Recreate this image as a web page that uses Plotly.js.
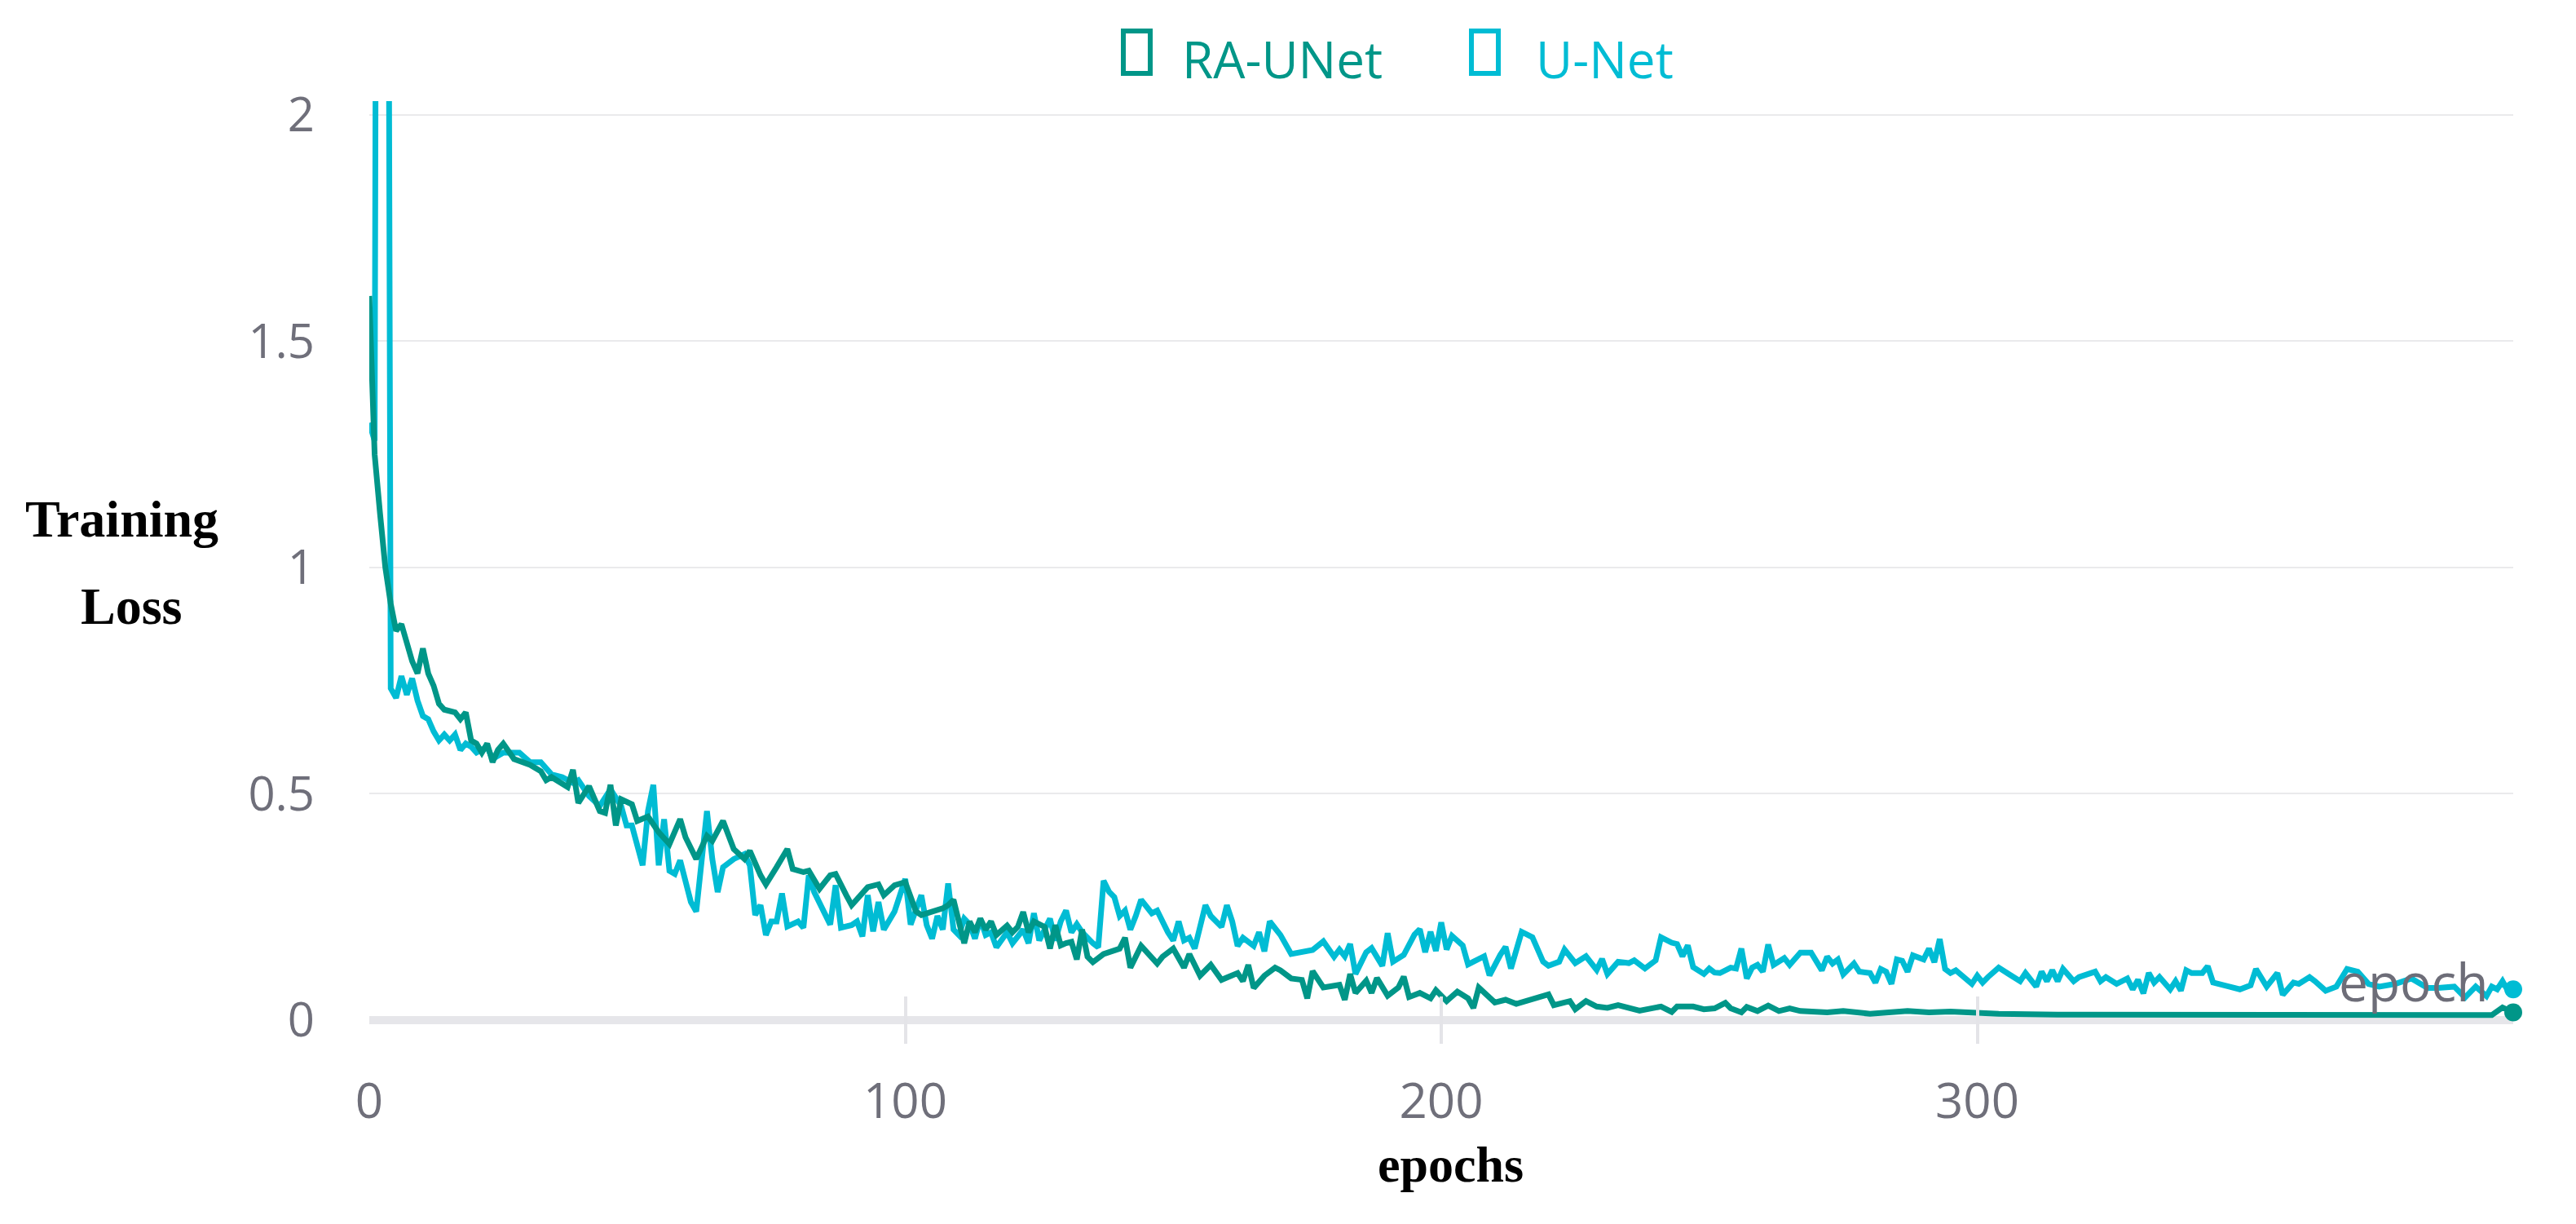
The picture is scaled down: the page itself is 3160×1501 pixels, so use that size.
<!DOCTYPE html>
<html>
<head>
<meta charset="utf-8">
<script src="https://cdn.plot.ly/plotly-3.0.1.min.js"></script>
<style>
  html, body { margin: 0; padding: 0; background: #ffffff; }
  #chart { width: 3160px; height: 1501px; }
</style>
</head>
<body>
<div id="chart"></div>
<script>
// Training loss per epoch
const raEpochs = [0,1,2,3,4,5,6,7,8,9,10,11,12,13,14,16,17,18,19,20,21,22,23,24,25,27,30,32,33,34,37,38,39,41,43,44,45,46,47,49,50,52,54,56,58,59,61,63,64,66,68,70,71,73,74,76,78,79,81,82,84,86,87,89,90,93,95,96,98,100,
  102,103,105,106,107,108,109,110,111,112,113,114,115,116,117,119,120,121,122,123,124,126,127,128,129,130,131,132,133,134,135,137,140,141,142,144,146,147,148,150,152,153,155,157,159,162,163,164,165,167,169,170,172,174,175,176,178,180,181,182,183,184,186,187,188,190,192,193,194,196,198,199,
  201,203,205,206,207,210,212,214,217,220,221,224,225,227,229,231,233,237,241,243,244,247,249,251,253,254,256,257,259,261,263,265,267,272,275,278,280,287,291,295,300,304,315,325,334,340,350,360,370,380,390,396,398,400];
const raLoss = [1.60,1.25,1.12,1.00,0.92,0.86,0.875,0.834,0.793,0.766,0.821,0.766,0.739,0.699,0.686,0.68,0.665,0.68,0.618,0.611,0.591,0.611,0.57,0.597,0.611,0.577,0.564,0.55,0.53,0.537,0.515,0.553,0.48,0.517,0.462,0.458,0.52,0.43,0.488,0.477,0.44,0.45,0.415,0.389,0.444,0.404,0.356,0.407,0.396,0.44,0.378,0.356,0.374,0.32,0.30,0.338,0.378,0.334,0.327,0.33,0.29,0.32,0.323,0.276,0.254,0.294,0.30,0.276,0.298,0.305,
  0.24,0.232,0.24,0.242,0.247,0.254,0.266,0.218,0.17,0.218,0.194,0.224,0.20,0.218,0.188,0.209,0.194,0.206,0.239,0.194,0.218,0.206,0.158,0.21,0.165,0.17,0.173,0.134,0.20,0.14,0.128,0.146,0.158,0.182,0.116,0.164,0.14,0.125,0.14,0.158,0.116,0.146,0.098,0.122,0.089,0.104,0.086,0.122,0.071,0.098,0.116,0.11,0.092,0.089,0.048,0.108,0.072,0.075,0.078,0.045,0.102,0.06,0.087,0.06,0.093,0.054,0.072,0.096,0.051,0.06,0.048,0.066,
  0.042,0.063,0.048,0.027,0.072,0.039,0.045,0.036,0.045,0.057,0.033,0.042,0.024,0.042,0.03,0.027,0.033,0.021,0.03,0.018,0.03,0.03,0.024,0.026,0.038,0.026,0.017,0.029,0.02,0.032,0.02,0.026,0.02,0.017,0.02,0.017,0.014,0.02,0.017,0.019,0.015,0.014,0.012,0.012,0.01,0.012,0.013,0.011,0.011,0.01,0.01,0.011,0.028,0.017];

const unetEpochs = [0,1,2,3,4,5,6,7,8,9,10,11,12,13,14,15,16,17,18,19,20,22,23,25,28,30,32,34,36,38,39,41,43,45,47,48,49,51,52,53,54,55,56,57,58,60,61,63,64,65,66,68,70,71,72,73,74,75,76,77,78,80,81,82,83,86,87,88,90,91,92,93,94,95,96,98,100,
  101,103,104,105,106,107,108,109,110,111,112,113,114,115,116,117,119,120,122,123,124,125,127,128,129,130,131,132,133,135,136,137,138,139,140,141,142,143,144,146,147,149,150,151,152,153,154,156,157,159,160,161,162,163,165,166,167,168,170,172,174,176,178,180,181,182,183,184,186,187,189,190,191,193,195,196,197,198,199,200,
  201,202,204,205,208,209,211,212,213,215,217,219,220,222,223,225,227,229,230,231,233,235,236,238,240,241,243,244,245,246,247,249,250,251,252,254,255,256,257,258,259,260,261,262,264,265,267,269,271,272,273,274,275,277,278,280,281,282,283,284,285,286,287,288,290,291,292,293,294,295,296,299,300,
  301,302,304,306,308,309,311,312,313,314,315,316,318,319,322,323,324,326,328,329,330,331,332,333,334,336,337,338,339,340,342,343,344,347,349,351,352,354,356,357,359,360,362,363,365,367,369,371,373,375,378,381,384,386,389,391,393,395,396,397,398,399,400];
const unetLoss = [1.32,1.28,6.0,5.0,0.733,0.712,0.76,0.719,0.755,0.706,0.672,0.665,0.638,0.618,0.631,0.618,0.631,0.597,0.611,0.604,0.591,0.604,0.577,0.591,0.591,0.57,0.57,0.543,0.537,0.524,0.53,0.495,0.473,0.51,0.473,0.43,0.43,0.342,0.462,0.52,0.342,0.444,0.33,0.323,0.353,0.261,0.24,0.462,0.356,0.283,0.338,0.356,0.367,0.342,0.232,0.254,0.188,0.218,0.218,0.28,0.207,0.218,0.204,0.32,0.283,0.211,0.298,0.204,0.21,0.218,0.185,0.276,0.196,0.261,0.2,0.24,0.312,
  0.211,0.276,0.21,0.18,0.23,0.2,0.302,0.2,0.188,0.224,0.212,0.18,0.224,0.188,0.194,0.161,0.194,0.17,0.2,0.17,0.236,0.176,0.224,0.176,0.218,0.242,0.194,0.212,0.194,0.17,0.161,0.308,0.284,0.272,0.23,0.242,0.2,0.23,0.266,0.236,0.242,0.194,0.176,0.218,0.176,0.182,0.158,0.254,0.23,0.206,0.254,0.218,0.164,0.182,0.164,0.194,0.152,0.218,0.188,0.146,0.15,0.155,0.174,0.14,0.156,0.141,0.168,0.102,0.15,0.159,0.12,0.192,0.129,0.144,0.189,0.201,0.15,0.195,0.153,0.216,
  0.156,0.186,0.165,0.123,0.141,0.099,0.144,0.162,0.114,0.195,0.183,0.129,0.12,0.129,0.156,0.126,0.141,0.111,0.135,0.102,0.129,0.126,0.132,0.114,0.132,0.183,0.171,0.168,0.141,0.165,0.117,0.102,0.114,0.105,0.104,0.116,0.114,0.158,0.092,0.116,0.122,0.107,0.167,0.122,0.137,0.122,0.149,0.149,0.11,0.14,0.125,0.134,0.101,0.125,0.107,0.104,0.083,0.113,0.107,0.08,0.134,0.131,0.107,0.143,0.134,0.158,0.128,0.179,0.113,0.104,0.11,0.08,0.098,
  0.083,0.095,0.116,0.101,0.086,0.104,0.074,0.107,0.086,0.11,0.086,0.113,0.086,0.095,0.107,0.086,0.095,0.08,0.092,0.068,0.089,0.059,0.104,0.083,0.095,0.068,0.086,0.065,0.11,0.104,0.104,0.119,0.083,0.074,0.068,0.077,0.113,0.074,0.104,0.056,0.083,0.08,0.095,0.086,0.065,0.074,0.113,0.107,0.08,0.074,0.08,0.092,0.071,0.071,0.074,0.05,0.074,0.053,0.074,0.068,0.086,0.065,0.068];

const yTicks = [0, 0.5, 1, 1.5, 2];
const xTicks = [0, 100, 200, 300];

const raColor = '#009688';
const unetColor = '#00bcd4';
const tickGray = '#6f6f7a';

const chart = document.getElementById('chart');

// plot area in page pixels, used to place the free text
const plotLeft = 453, plotRight = 3083, plotTop = 124, plotBottom = 1280;
function px(x) { return (x - plotLeft) / (plotRight - plotLeft); }
function py(y) { return (plotBottom - y) / (plotBottom - plotTop); }

const data = [
    {
        x: unetEpochs,
        y: unetLoss,
        type: 'scatter',
        mode: 'lines',
        line: { color: unetColor, width: 7 },
        name: 'U-Net',
    },
    {
        x: raEpochs,
        y: raLoss,
        type: 'scatter',
        mode: 'lines',
        line: { color: raColor, width: 7 },
        name: 'RA-UNet',
    },
    // dot on the last point of each run
    {
        x: [unetEpochs[unetEpochs.length - 1]],
        y: [unetLoss[unetLoss.length - 1]],
        type: 'scatter',
        mode: 'markers',
        marker: { color: unetColor, size: 22 },
        cliponaxis: false,
        hoverinfo: 'skip',
    },
    {
        x: [raEpochs[raEpochs.length - 1]],
        y: [raLoss[raLoss.length - 1]],
        type: 'scatter',
        mode: 'markers',
        marker: { color: raColor, size: 22 },
        cliponaxis: false,
        hoverinfo: 'skip',
    },
];

const layout = {
    width: 3160,
    height: 1501,
    showlegend: false,
    paper_bgcolor: '#ffffff',
    plot_bgcolor: '#ffffff',
    margin: { l: plotLeft, r: 3160 - plotRight, t: plotTop, b: 1501 - plotBottom },
    font: { family: 'Open Sans, sans-serif', color: tickGray },
    xaxis: {
        range: [0, 400],
        tickvals: xTicks,
        showgrid: false,
        zeroline: false,
        showline: false,
        ticks: 'inside',
        ticklen: 58,
        tickwidth: 4,
        tickcolor: '#e4e4e8',
        ticklabelstandoff: 30,
        tickfont: { family: 'Open Sans', size: 60, color: tickGray },
    },
    yaxis: {
        range: [-0.0523, 2.0306],
        tickvals: yTicks,
        showgrid: true,
        gridcolor: '#eaeaec',
        gridwidth: 2,
        zeroline: true,
        zerolinecolor: '#e6e6ea',
        zerolinewidth: 10,
        showline: false,
        ticks: '',
        ticklabelstandoff: 66,
        tickfont: { family: 'Open Sans', size: 58, color: tickGray },
    },
    shapes: [
        {
            type: 'rect', xref: 'paper', yref: 'paper',
            x0: px(1378), x1: px(1411), y0: py(90), y1: py(38),
            line: { color: raColor, width: 6 },
        },
        {
            type: 'rect', xref: 'paper', yref: 'paper',
            x0: px(1805), x1: px(1838), y0: py(90), y1: py(38),
            line: { color: unetColor, width: 6 },
        },
    ],
    annotations: [
        {
            text: 'RA-UNet', xref: 'paper', yref: 'paper',
            x: px(1448), y: py(72), xanchor: 'left', yanchor: 'middle',
            showarrow: false,
            font: { family: 'Open Sans', size: 62, color: raColor },
        },
        {
            text: 'U-Net', xref: 'paper', yref: 'paper',
            x: px(1882), y: py(72), xanchor: 'left', yanchor: 'middle',
            showarrow: false,
            font: { family: 'Open Sans', size: 62, color: unetColor },
        },
        {
            text: '<b>Training</b>', xref: 'paper', yref: 'paper',
            x: px(149), y: py(636), xanchor: 'center', yanchor: 'middle',
            showarrow: false,
            font: { family: 'Liberation Serif', size: 64, color: '#000000' },
        },
        {
            text: '<b>Loss</b>', xref: 'paper', yref: 'paper',
            x: px(161), y: py(743), xanchor: 'center', yanchor: 'middle',
            showarrow: false,
            font: { family: 'Liberation Serif', size: 64, color: '#000000' },
        },
        {
            text: '<b>epochs</b>', xref: 'paper', yref: 'paper',
            x: px(1779), y: py(1428), xanchor: 'center', yanchor: 'middle',
            showarrow: false,
            font: { family: 'Liberation Serif', size: 62, color: '#000000' },
        },
        {
            text: 'epoch', xref: 'paper', yref: 'paper',
            x: px(3055), y: py(1203), xanchor: 'right', yanchor: 'middle',
            showarrow: false,
            font: { family: 'Open Sans', size: 64, color: '#6d6d78' },
        },
    ],
};

Plotly.newPlot(chart, data, layout, { staticPlot: true });
</script>
</body>
</html>
